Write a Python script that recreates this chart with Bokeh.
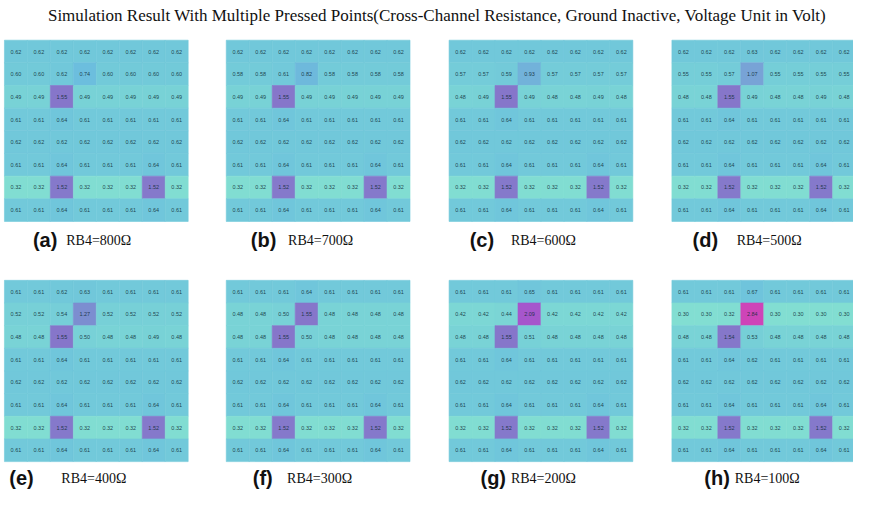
import numpy as np
from bokeh.plotting import figure
from bokeh.models import ColumnDataSource, LinearColorMapper, Range1d
from bokeh.transform import transform
from bokeh.core.properties import value
from bokeh.embed import file_html
from bokeh.resources import INLINE

# ---------------- data ----------------
title_text = "Simulation Result With Multiple Pressed Points(Cross-Channel Resistance, Ground Inactive, Voltage Unit in Volt)"
panel_tags = ["(a)", "(b)", "(c)", "(d)", "(e)", "(f)", "(g)", "(h)"]
panel_captions = ["RB4=800Ω", "RB4=700Ω", "RB4=600Ω", "RB4=500Ω",
                  "RB4=400Ω", "RB4=300Ω", "RB4=200Ω", "RB4=100Ω"]

panel_a = [
    [0.62, 0.62, 0.62, 0.62, 0.62, 0.62, 0.62, 0.62],
    [0.60, 0.60, 0.62, 0.74, 0.60, 0.60, 0.60, 0.60],
    [0.49, 0.49, 1.55, 0.49, 0.49, 0.49, 0.49, 0.49],
    [0.61, 0.61, 0.64, 0.61, 0.61, 0.61, 0.61, 0.61],
    [0.62, 0.62, 0.62, 0.62, 0.62, 0.62, 0.62, 0.62],
    [0.61, 0.61, 0.64, 0.61, 0.61, 0.61, 0.64, 0.61],
    [0.32, 0.32, 1.52, 0.32, 0.32, 0.32, 1.52, 0.32],
    [0.61, 0.61, 0.64, 0.61, 0.61, 0.61, 0.64, 0.61],
]
panel_b = [
    [0.62, 0.62, 0.62, 0.62, 0.62, 0.62, 0.62, 0.62],
    [0.58, 0.58, 0.61, 0.82, 0.58, 0.58, 0.58, 0.58],
    [0.49, 0.49, 1.55, 0.49, 0.49, 0.49, 0.49, 0.49],
    [0.61, 0.61, 0.64, 0.61, 0.61, 0.61, 0.61, 0.61],
    [0.62, 0.62, 0.62, 0.62, 0.62, 0.62, 0.62, 0.62],
    [0.61, 0.61, 0.64, 0.61, 0.61, 0.61, 0.64, 0.61],
    [0.32, 0.32, 1.52, 0.32, 0.32, 0.32, 1.52, 0.32],
    [0.61, 0.61, 0.64, 0.61, 0.61, 0.61, 0.64, 0.61],
]
panel_c = [
    [0.62, 0.62, 0.62, 0.62, 0.62, 0.62, 0.62, 0.62],
    [0.57, 0.57, 0.59, 0.93, 0.57, 0.57, 0.57, 0.57],
    [0.48, 0.49, 1.55, 0.49, 0.48, 0.48, 0.49, 0.48],
    [0.61, 0.61, 0.64, 0.61, 0.61, 0.61, 0.61, 0.61],
    [0.62, 0.62, 0.62, 0.62, 0.62, 0.62, 0.62, 0.62],
    [0.61, 0.61, 0.64, 0.61, 0.61, 0.61, 0.64, 0.61],
    [0.32, 0.32, 1.52, 0.32, 0.32, 0.32, 1.52, 0.32],
    [0.61, 0.61, 0.64, 0.61, 0.61, 0.61, 0.64, 0.61],
]
panel_d = [
    [0.62, 0.62, 0.62, 0.63, 0.62, 0.62, 0.62, 0.62],
    [0.55, 0.55, 0.57, 1.07, 0.55, 0.55, 0.55, 0.55],
    [0.48, 0.48, 1.55, 0.49, 0.48, 0.48, 0.49, 0.48],
    [0.61, 0.61, 0.64, 0.61, 0.61, 0.61, 0.61, 0.61],
    [0.62, 0.62, 0.62, 0.62, 0.62, 0.62, 0.62, 0.62],
    [0.61, 0.61, 0.64, 0.61, 0.61, 0.61, 0.64, 0.61],
    [0.32, 0.32, 1.52, 0.32, 0.32, 0.32, 1.52, 0.32],
    [0.61, 0.61, 0.64, 0.61, 0.61, 0.61, 0.64, 0.61],
]
panel_e = [
    [0.61, 0.61, 0.62, 0.63, 0.61, 0.61, 0.61, 0.61],
    [0.52, 0.52, 0.54, 1.27, 0.52, 0.52, 0.52, 0.52],
    [0.48, 0.48, 1.55, 0.50, 0.48, 0.48, 0.49, 0.48],
    [0.61, 0.61, 0.64, 0.61, 0.61, 0.61, 0.61, 0.61],
    [0.62, 0.62, 0.62, 0.62, 0.62, 0.62, 0.62, 0.62],
    [0.61, 0.61, 0.64, 0.61, 0.61, 0.61, 0.64, 0.61],
    [0.32, 0.32, 1.52, 0.32, 0.32, 0.32, 1.52, 0.32],
    [0.61, 0.61, 0.64, 0.61, 0.61, 0.61, 0.64, 0.61],
]
panel_f = [
    [0.61, 0.61, 0.61, 0.64, 0.61, 0.61, 0.61, 0.61],
    [0.48, 0.48, 0.50, 1.55, 0.48, 0.48, 0.48, 0.48],
    [0.48, 0.48, 1.55, 0.50, 0.48, 0.48, 0.48, 0.48],
    [0.61, 0.61, 0.64, 0.61, 0.61, 0.61, 0.61, 0.61],
    [0.62, 0.62, 0.62, 0.62, 0.62, 0.62, 0.62, 0.62],
    [0.61, 0.61, 0.64, 0.61, 0.61, 0.61, 0.64, 0.61],
    [0.32, 0.32, 1.52, 0.32, 0.32, 0.32, 1.52, 0.32],
    [0.61, 0.61, 0.64, 0.61, 0.61, 0.61, 0.64, 0.61],
]
panel_g = [
    [0.61, 0.61, 0.61, 0.65, 0.61, 0.61, 0.61, 0.61],
    [0.42, 0.42, 0.44, 2.09, 0.42, 0.42, 0.42, 0.42],
    [0.48, 0.48, 1.55, 0.51, 0.48, 0.48, 0.48, 0.48],
    [0.61, 0.61, 0.64, 0.61, 0.61, 0.61, 0.61, 0.61],
    [0.62, 0.62, 0.62, 0.62, 0.62, 0.62, 0.62, 0.62],
    [0.61, 0.61, 0.64, 0.61, 0.61, 0.61, 0.64, 0.61],
    [0.32, 0.32, 1.52, 0.32, 0.32, 0.32, 1.52, 0.32],
    [0.61, 0.61, 0.64, 0.61, 0.61, 0.61, 0.64, 0.61],
]
panel_h = [
    [0.61, 0.61, 0.61, 0.67, 0.61, 0.61, 0.61, 0.61],
    [0.30, 0.30, 0.32, 2.84, 0.30, 0.30, 0.30, 0.30],
    [0.48, 0.48, 1.54, 0.53, 0.48, 0.48, 0.48, 0.48],
    [0.61, 0.61, 0.64, 0.62, 0.61, 0.61, 0.61, 0.61],
    [0.62, 0.62, 0.62, 0.62, 0.62, 0.62, 0.62, 0.62],
    [0.61, 0.61, 0.64, 0.61, 0.61, 0.61, 0.64, 0.61],
    [0.32, 0.32, 1.52, 0.32, 0.32, 0.32, 1.52, 0.32],
    [0.61, 0.61, 0.64, 0.61, 0.61, 0.61, 0.64, 0.61],
]
panels = [panel_a, panel_b, panel_c, panel_d, panel_e, panel_f, panel_g, panel_h]

# ---------------- style / layout (in reference-picture coordinates) ----------------
W, H = 853, 489          # figure size on the page
REF_W, REF_H = 869, 505  # coordinate frame of the layout below
cell = 23.4
panel_left = [4, 230, 457, 684, 4, 230, 457, 684]
panel_top = [41, 41, 41, 41, 289, 289, 289, 289]
tag_x = [33, 255, 478, 705, 9, 257, 489, 717]
cap_x = [67, 293, 520, 750, 62, 292, 520, 748]
label_y = [247, 247, 247, 247, 493, 493, 493, 493]

cmap_vals = [0.30, 0.48, 0.62, 0.74, 0.93, 1.07, 1.27, 1.55, 2.09, 2.84]
cmap_rgb = [(130, 222, 210), (121, 211, 214), (113, 200, 218), (108, 190, 222),
            (114, 178, 218), (120, 163, 214), (124, 142, 208), (134, 118, 202),
            (166, 86, 204), (206, 68, 184)]
lo, hi = cmap_vals[0], cmap_vals[-1]
grid_v = np.linspace(lo, hi, 256)
rgb = np.array(cmap_rgb, dtype=float)
palette = []
for v in grid_v:
    r = np.interp(v, cmap_vals, rgb[:, 0])
    g = np.interp(v, cmap_vals, rgb[:, 1])
    b = np.interp(v, cmap_vals, rgb[:, 2])
    palette.append("#%02x%02x%02x" % (int(round(r)), int(round(g)), int(round(b))))
mapper = LinearColorMapper(palette=palette, low=lo, high=hi)

# ---------------- build ----------------
xs, ys, vs, ts = [], [], [], []
for k, mat in enumerate(panels):
    for i, row in enumerate(mat):
        for j, val in enumerate(row):
            xs.append(panel_left[k] + (j + 0.5) * cell)
            ys.append(panel_top[k] + (i + 0.5) * cell)
            vs.append(val)
            ts.append("%.2f" % val)
src = ColumnDataSource(dict(x=xs, y=ys, v=vs, t=ts))

p = figure(width=W, height=H, output_backend="svg", toolbar_location=None,
           x_range=Range1d(0, REF_W), y_range=Range1d(REF_H, 0),
           x_axis_type=None, y_axis_type=None, min_border=0,
           outline_line_color=None, background_fill_color="white",
           border_fill_color="white")
p.grid.visible = False

p.rect(x="x", y="y", width=cell, height=cell, source=src,
       fill_color=transform("v", mapper), line_color=transform("v", mapper),
       line_width=0.6)
p.text(x="x", y="y", text="t", source=src, text_align="center",
       text_baseline="middle", text_font=value("Liberation Sans"),
       text_font_size="5.5px", text_color="#0c2a33", text_alpha=0.85)

p.text(x=[445], y=[16], text=[title_text], text_align="center",
       text_baseline="middle", text_font=value("Liberation Serif"),
       text_font_size="17px", text_color="#111111")

p.text(x=tag_x, y=label_y, text=panel_tags, text_align="left",
       text_baseline="middle", text_font=value("Liberation Sans"),
       text_font_style="bold", text_font_size="20px", text_color="#111111")
p.text(x=cap_x, y=[yy + 1 for yy in label_y], text=panel_captions, text_align="left",
       text_baseline="middle", text_font=value("Liberation Serif"),
       text_font_size="14px", text_color="#111111")

open("out.html", "w").write(file_html(p, INLINE))
